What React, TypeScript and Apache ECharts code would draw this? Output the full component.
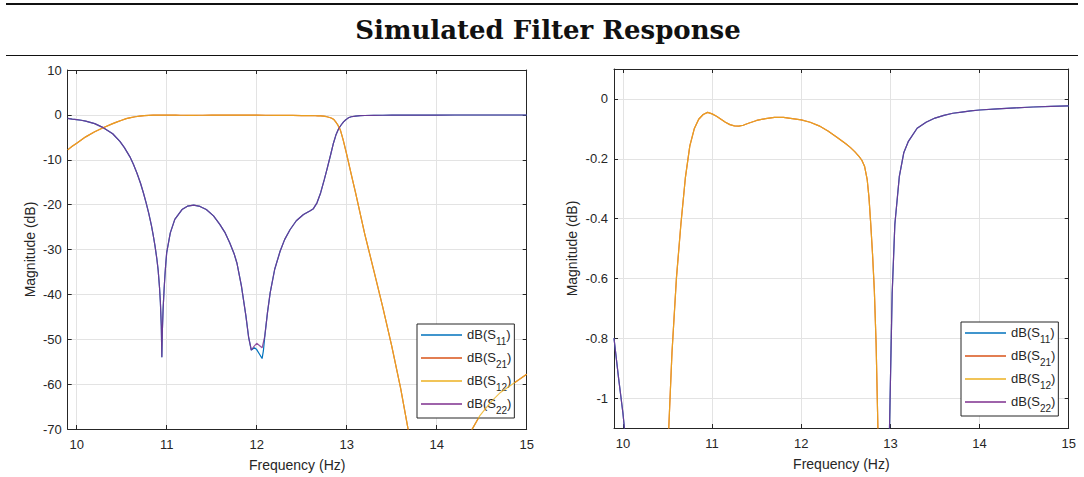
import React, { useEffect, useRef } from 'react';
import * as echarts from 'echarts';

const TITLE = 'Simulated Filter Response';
const X_NAME = 'Frequency (Hz)';
const Y_NAME = 'Magnitude (dB)';
const X_TICKS = [10, 11, 12, 13, 14, 15];
const LEFT_Y_TICKS = [-70, -60, -50, -40, -30, -20, -10, 0, 10];
const RIGHT_Y_TICKS = [-1, -0.8, -0.6, -0.4, -0.2, 0];
const SERIES_NAMES = ['S11', 'S21', 'S12', 'S22'];
const COLORS = ['#0072BD', '#D95319', '#EDB120', '#7E2F8E'];

type Pt = [number, number];

const s22: Pt[] = [
  [9.9, -0.8], [9.95, -0.93], [10.0, -1.05], [10.05, -1.2], [10.1, -1.4], [10.2, -1.95], [10.3, -2.9], [10.4, -4.2],
  [10.48, -5.9], [10.53, -7.3], [10.59, -9.3], [10.63, -11], [10.67, -13], [10.71, -15.3], [10.74, -17.3], [10.77, -19.5],
  [10.8, -21.9], [10.83, -24.6], [10.85, -26.8], [10.87, -29.2], [10.89, -32.0], [10.905, -34.6], [10.92, -38.4], [10.93, -41.8],
  [10.94, -47], [10.946, -54], [10.952, -48], [10.96, -43.3], [10.97, -39.3], [10.98, -35.9], [10.99, -33.1], [11.0, -30.7],
  [11.04, -26.3], [11.09, -23.3], [11.17, -21.1], [11.23, -20.35], [11.3, -20.1], [11.37, -20.4], [11.44, -21.1], [11.52, -22.5],
  [11.59, -24.4], [11.65, -26.3], [11.7, -28.5], [11.75, -31], [11.78, -33], [11.83, -38.1], [11.88, -44.8], [11.91, -49.5],
  [11.94, -52.4], [11.97, -51.6], [12.0, -50.9], [12.03, -51.4], [12.06, -51.9], [12.09, -49.3], [12.12, -44], [12.15, -39.6],
  [12.2, -34.4], [12.26, -30.4], [12.31, -27.8], [12.37, -25.6], [12.44, -23.6], [12.52, -22.2], [12.59, -21.4], [12.63, -20.9],
  [12.67, -19.6], [12.71, -17.4], [12.75, -14.5], [12.78, -12.2], [12.82, -9.0], [12.85, -6.5], [12.88, -4.5], [12.91, -3.1],
  [12.94, -2.2], [12.965, -1.55], [12.99, -1.1], [13.0, -0.95], [13.02, -0.65], [13.05, -0.42], [13.1, -0.26], [13.15, -0.18],
  [13.2, -0.143], [13.3, -0.098], [13.4, -0.078], [13.5, -0.064], [13.6, -0.055], [13.7, -0.048], [13.8, -0.044], [13.9, -0.04],
  [14.0, -0.037], [14.2, -0.033], [14.4, -0.03], [14.6, -0.027], [14.8, -0.025], [15.0, -0.0235],
];

const s11: Pt[] = [
  [9.9, -0.8], [9.95, -0.93], [10.0, -1.05], [10.05, -1.2], [10.1, -1.4], [10.2, -1.95], [10.3, -2.9], [10.4, -4.2],
  [10.48, -5.9], [10.53, -7.3], [10.59, -9.3], [10.63, -11], [10.67, -13], [10.71, -15.3], [10.74, -17.3], [10.77, -19.5],
  [10.8, -21.9], [10.83, -24.6], [10.85, -26.8], [10.87, -29.2], [10.89, -32.0], [10.905, -34.6], [10.92, -38.4], [10.93, -41.8],
  [10.94, -47], [10.946, -54], [10.952, -48], [10.96, -43.3], [10.97, -39.3], [10.98, -35.9], [10.99, -33.1], [11.0, -30.7],
  [11.04, -26.3], [11.09, -23.3], [11.17, -21.1], [11.23, -20.35], [11.3, -20.1], [11.37, -20.4], [11.44, -21.1], [11.52, -22.5],
  [11.59, -24.4], [11.65, -26.3], [11.7, -28.5], [11.75, -31], [11.78, -33], [11.83, -38.1], [11.88, -44.8], [11.91, -49.5],
  [11.94, -52.4], [11.975, -51.9], [12.0, -52.3], [12.03, -53.3], [12.06, -54.3], [12.075, -52.5], [12.09, -49.3], [12.12, -44],
  [12.15, -39.6], [12.2, -34.4], [12.26, -30.4], [12.31, -27.8], [12.37, -25.6], [12.44, -23.6], [12.52, -22.2], [12.59, -21.4],
  [12.63, -20.9], [12.67, -19.6], [12.71, -17.4], [12.75, -14.5], [12.78, -12.2], [12.82, -9.0], [12.85, -6.5], [12.88, -4.5],
  [12.91, -3.1], [12.94, -2.2], [12.965, -1.55], [12.99, -1.1], [13.0, -0.95], [13.02, -0.65], [13.05, -0.42], [13.1, -0.26],
  [13.15, -0.18], [13.2, -0.143], [13.3, -0.098], [13.4, -0.078], [13.5, -0.064], [13.6, -0.055], [13.7, -0.048], [13.8, -0.044],
  [13.9, -0.04], [14.0, -0.037], [14.2, -0.033], [14.4, -0.03], [14.6, -0.027], [14.8, -0.025], [15.0, -0.0235],
];

const s21: Pt[] = [
  [9.9, -7.8], [9.95, -7.0], [10.0, -6.3], [10.05, -5.6], [10.1, -4.9], [10.2, -3.75], [10.3, -2.8], [10.4, -1.95],
  [10.45, -1.55], [10.5, -1.2], [10.55, -0.85], [10.6, -0.6], [10.65, -0.42], [10.7, -0.265], [10.75, -0.158], [10.8, -0.1],
  [10.85, -0.068], [10.9, -0.052], [10.95, -0.045], [11.0, -0.05], [11.05, -0.058], [11.1, -0.068], [11.15, -0.078], [11.2, -0.086],
  [11.25, -0.09], [11.3, -0.091], [11.35, -0.088], [11.4, -0.082], [11.5, -0.072], [11.6, -0.066], [11.7, -0.062], [11.8, -0.062],
  [11.9, -0.066], [12.0, -0.07], [12.1, -0.078], [12.2, -0.09], [12.3, -0.107], [12.4, -0.128], [12.5, -0.15], [12.55, -0.162],
  [12.6, -0.176], [12.65, -0.193], [12.68, -0.205], [12.71, -0.225], [12.74, -0.27], [12.76, -0.33], [12.78, -0.42], [12.8, -0.52],
  [12.82, -0.64], [12.84, -0.82], [12.86, -1.1], [12.88, -1.6], [12.9, -2.2], [12.93, -3.4], [12.96, -5.5], [13.0, -8.8],
  [13.05, -13.2], [13.1, -17.5], [13.15, -22], [13.2, -26.5], [13.3, -34.6], [13.4, -42.8], [13.5, -51.5], [13.6, -61],
  [13.7, -72], [13.8, -84], [13.9, -97], [14.0, -110], [14.1, -96], [14.2, -85], [14.3, -77], [14.39, -70.2],
  [14.48, -67], [14.6, -64], [14.7, -62], [14.8, -60.6], [14.9, -59.2], [15.0, -57.8],
];

const s12: Pt[] = [
  [9.9, -7.8], [9.95, -7.0], [10.0, -6.3], [10.05, -5.6], [10.1, -4.9], [10.2, -3.75], [10.3, -2.8], [10.4, -1.95],
  [10.45, -1.55], [10.5, -1.2], [10.55, -0.85], [10.6, -0.6], [10.65, -0.42], [10.7, -0.265], [10.75, -0.158], [10.8, -0.1],
  [10.85, -0.068], [10.9, -0.052], [10.95, -0.045], [11.0, -0.05], [11.05, -0.058], [11.1, -0.068], [11.15, -0.078], [11.2, -0.086],
  [11.25, -0.09], [11.3, -0.091], [11.35, -0.088], [11.4, -0.082], [11.5, -0.072], [11.6, -0.066], [11.7, -0.062], [11.8, -0.062],
  [11.9, -0.066], [12.0, -0.07], [12.1, -0.078], [12.2, -0.09], [12.3, -0.107], [12.4, -0.128], [12.5, -0.15], [12.55, -0.162],
  [12.6, -0.176], [12.65, -0.193], [12.68, -0.205], [12.71, -0.225], [12.74, -0.27], [12.76, -0.33], [12.78, -0.42], [12.8, -0.52],
  [12.82, -0.64], [12.84, -0.82], [12.86, -1.1], [12.88, -1.6], [12.9, -2.2], [12.93, -3.4], [12.96, -5.5], [13.0, -8.8],
  [13.05, -13.2], [13.1, -17.5], [13.15, -22], [13.2, -26.5], [13.3, -34.6], [13.4, -42.8], [13.5, -51.5], [13.6, -61],
  [13.7, -72], [13.8, -84], [13.9, -97], [14.0, -110], [14.1, -96], [14.2, -85], [14.3, -77], [14.39, -70.2],
  [14.48, -67], [14.6, -64], [14.7, -62], [14.8, -60.6], [14.9, -59.2], [15.0, -57.8],
];

const SERIES_DATA: Pt[][] = [s11, s21, s12, s22];
const SERIES_OPACITY = [1, 1, 0.8, 0.82];

const AXIS_COLOR = '#262626';
const GRID_COLOR = '#e3e3e3';
const SANS = '"Liberation Sans", Arial, Helvetica, sans-serif';

function xAxes(gridIndex: number) {
  return [
    {
      type: 'value', gridIndex, min: 9.9, max: 15, position: 'bottom',
      axisLine: { show: true, onZero: false, lineStyle: { color: AXIS_COLOR, width: 1 } },
      axisTick: { show: true, inside: true, length: 4, customValues: X_TICKS, lineStyle: { color: AXIS_COLOR } },
      axisLabel: { customValues: X_TICKS, color: AXIS_COLOR, fontSize: 13, fontFamily: SANS, margin: 9 },
      splitLine: { show: true, lineStyle: { color: GRID_COLOR, width: 1 } },
      name: X_NAME, nameLocation: 'middle', nameGap: 29,
      nameTextStyle: { color: AXIS_COLOR, fontSize: 14, fontFamily: SANS },
    },
    {
      type: 'value', gridIndex, min: 9.9, max: 15, position: 'top',
      axisLine: { show: true, onZero: false, lineStyle: { color: AXIS_COLOR, width: 1 } },
      axisTick: { show: true, inside: true, length: 4, customValues: X_TICKS, lineStyle: { color: AXIS_COLOR } },
      axisLabel: { show: false },
      splitLine: { show: false },
    },
  ];
}

function yAxes(gridIndex: number, min: number, max: number, ticks: number[], nameGap: number) {
  const tick = { show: true, inside: true, length: 4, customValues: ticks, lineStyle: { color: AXIS_COLOR } };
  return [
    {
      type: 'value', gridIndex, min, max, position: 'left',
      axisLine: { show: true, onZero: false, lineStyle: { color: AXIS_COLOR, width: 1 } },
      axisTick: tick,
      axisLabel: { customValues: ticks, color: AXIS_COLOR, fontSize: 13, fontFamily: SANS, margin: 6 },
      splitLine: { show: true, lineStyle: { color: GRID_COLOR, width: 1 } },
      name: Y_NAME, nameLocation: 'middle', nameGap, nameRotate: 90,
      nameTextStyle: { color: AXIS_COLOR, fontSize: 14, fontFamily: SANS },
    },
    {
      type: 'value', gridIndex, min, max, position: 'right',
      axisLine: { show: true, onZero: false, lineStyle: { color: AXIS_COLOR, width: 1 } },
      axisTick: tick,
      axisLabel: { show: false },
      splitLine: { show: false },
    },
  ];
}

function legend(left: number, top: number) {
  return {
    orient: 'vertical', left, top,
    data: SERIES_NAMES,
    icon: 'rect', itemWidth: 41, itemHeight: 1.5, itemGap: 5,
    selectedMode: false,
    backgroundColor: '#ffffff', borderColor: AXIS_COLOR, borderWidth: 1, borderRadius: 0,
    padding: [4, 3, 3, 4],
    formatter: (name: string) => `{n|dB(S}{s|${name.slice(1)}}{n|)}`,
    textStyle: {
      color: AXIS_COLOR, fontFamily: SANS, fontSize: 13,
      rich: {
        n: { fontSize: 13, fontFamily: SANS, color: AXIS_COLOR, lineHeight: 14, verticalAlign: 'top' },
        s: { fontSize: 10, fontFamily: SANS, color: AXIS_COLOR, lineHeight: 10, padding: [8, 0, 0, 0], verticalAlign: 'top' },
      },
    },
  };
}

function seriesFor(gridIdx: number) {
  return SERIES_NAMES.map((name, i) => ({
    type: 'line', name,
    data: SERIES_DATA[i],
    xAxisIndex: gridIdx * 2, yAxisIndex: gridIdx * 2,
    showSymbol: false, symbol: 'none', clip: true, silent: true,
    color: COLORS[i],
    itemStyle: { color: COLORS[i] },
    lineStyle: { width: 1.2, color: COLORS[i], opacity: SERIES_OPACITY[i] },
    z: 2 + i,
  }));
}

export default function App() {
  const ref = useRef<HTMLDivElement>(null);
  useEffect(() => {
    if (!ref.current) return;
    const chart = echarts.init(ref.current, undefined, { renderer: 'svg' });
    chart.setOption({
      animation: false,
      backgroundColor: '#ffffff',
      grid: [
        { left: 67.7, top: 70, right: 1084 - 526.7, bottom: 477 - 430, containLabel: false },
        { left: 614, top: 69, right: 1084 - 1068.7, bottom: 477 - 428, containLabel: false },
      ],
      xAxis: [...xAxes(0), ...xAxes(1)],
      yAxis: [...yAxes(0, -70, 10, LEFT_Y_TICKS, 31), ...yAxes(1, -1.1, 0.1, RIGHT_Y_TICKS, 35)],
      legend: [legend(417, 324), legend(961, 322)],
      series: [...seriesFor(0), ...seriesFor(1)],
      graphic: [
        { type: 'line', shape: { x1: 6, y1: 4, x2: 1078, y2: 4 }, style: { stroke: '#111111', lineWidth: 2 } },
        { type: 'line', shape: { x1: 6, y1: 55.5, x2: 1078, y2: 55.5 }, style: { stroke: '#111111', lineWidth: 1.2 } },
        {
          type: 'text', x: 548, y: 29.5,
          style: {
            text: TITLE, fill: '#111111', align: 'center', verticalAlign: 'middle',
            font: 'bold 26px "DejaVu Serif", "Liberation Serif", serif',
          },
        },
      ],
    });
    return () => chart.dispose();
  }, []);
  return <div ref={ref} style={{ position: 'absolute', left: 0, top: 0, width: 1084, height: 477 }} />;
}
